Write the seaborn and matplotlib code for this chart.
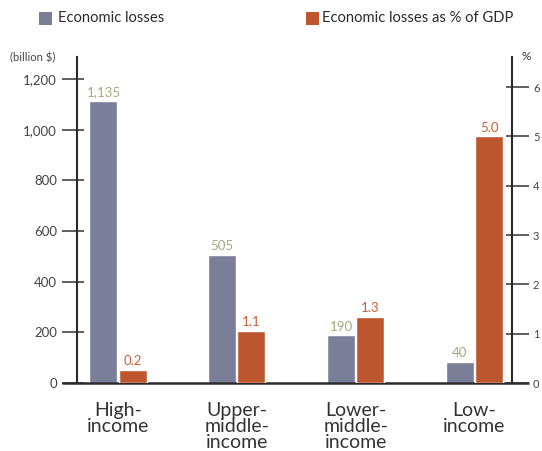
import matplotlib
matplotlib.use("Agg")
import matplotlib.pyplot as plt
import seaborn as sns
import pandas as pd
from matplotlib.ticker import FuncFormatter, FixedLocator, NullFormatter
from matplotlib.patches import Rectangle

# ---- data ----
categories = ["High-\nincome", "Upper-\nmiddle-\nincome", "Lower-\nmiddle-\nincome", "Low-\nincome"]
losses = [1115, 505, 188, 83]              # bar heights as drawn (billion $)
loss_labels = ["1,135", "505", "190", "40"]
pct_gdp = [0.26, 1.05, 1.34, 5.0]          # bar heights as drawn (%)
pct_labels = ["0.2", "1.1", "1.3", "5.0"]
series = ["Economic losses", "Economic losses as % of GDP"]
left_ticks = [0, 200, 400, 600, 800, 1000, 1200]
right_ticks = [0, 1, 2, 3, 4, 5, 6]

GRAY = "#7a7e98"
ORANGE = "#bd562e"
GRAY_TXT = "#a8a67c"
ORANGE_TXT = "#c85f36"
DARK = "#2a2a2a"
PX = 0.72  # points per pixel at dpi 100

sns.set_theme(style="white")
plt.rcParams["font.family"] = ["Lato", "DejaVu Sans"]

fig = plt.figure(figsize=(5.42, 4.51), dpi=100)
ax1 = fig.add_axes([77/542, 1-383/451, (512-77)/542, (383-57)/451])
ax2 = ax1.twinx()

df1 = pd.DataFrame({"cat": categories, "val": losses, "series": series[0]})
df2 = pd.DataFrame({"cat": categories, "val": pct_gdp, "series": series[1]})

common = dict(x="cat", y="val", hue="series", hue_order=series, order=categories,
              palette=[GRAY, ORANGE], width=0.49, gap=0.035, saturation=1,
              legend=False, errorbar=None, dodge=True)
sns.barplot(data=df1, ax=ax1, **common)
sns.barplot(data=df2, ax=ax2, **common)

for ax in (ax1, ax2):
    ax.set_xlim(-0.345, 3.316)
    ax.set_xlabel("")
    ax.set_ylabel("")
    for s in ax.spines.values():
        s.set_visible(False)
    ax.grid(False)
ax1.set_ylim(0, 1287)
ax2.set_ylim(0, 6.61)

# spines
ax1.spines["left"].set_visible(True)
ax1.spines["left"].set_color(DARK)
ax1.spines["left"].set_linewidth(1.5)
ax2.spines["right"].set_visible(True)
ax2.spines["right"].set_color(DARK)
ax2.spines["right"].set_linewidth(1.5)
ax1.plot([-0.0345, 1.038], [0, 0], transform=ax1.transAxes, color=DARK,
         lw=1.8, clip_on=False, zorder=5, solid_capstyle="butt")

# y ticks: outward major + inward minor at same positions
ax1.yaxis.remove_overlapping_locs = False
ax1.yaxis.set_major_locator(FixedLocator(left_ticks))
ax1.yaxis.set_minor_locator(FixedLocator(left_ticks))
ax1.yaxis.set_minor_formatter(NullFormatter())
ax1.yaxis.set_major_formatter(FuncFormatter(lambda v, p: f"{int(v):,}"))
ax1.tick_params(axis="y", which="major", left=True, right=False, direction="out", length=15*PX,
                width=1.1, color="#333333", labelsize=9.5, labelcolor="#444444", pad=5*PX)
ax1.tick_params(axis="y", which="minor", left=True, right=False, direction="in", length=7*PX,
                width=1.1, color="#333333")

ax2.yaxis.remove_overlapping_locs = False
ax2.yaxis.set_major_locator(FixedLocator(right_ticks))
ax2.yaxis.set_minor_locator(FixedLocator(right_ticks))
ax2.yaxis.set_minor_formatter(NullFormatter())
ax2.yaxis.set_major_formatter(FuncFormatter(lambda v, p: f"{int(v)}"))
ax2.tick_params(axis="y", which="major", right=True, left=False, direction="out", length=17*PX,
                width=1.1, color="#333333", labelsize=8, labelcolor="#444444", pad=4*PX)
ax2.tick_params(axis="y", which="minor", right=True, left=False, direction="in", length=6*PX,
                width=1.1, color="#333333")

# x tick labels
ax1.tick_params(axis="x", bottom=False, labelsize=14, labelcolor="#333333", pad=7.5)
ax2.tick_params(axis="x", bottom=False, labelbottom=False)
for lab in ax1.get_xticklabels():
    lab.set_linespacing(0.93)
    lab.set_verticalalignment("top")

# value labels
def label_bars(ax, labels, color):
    for cont in ax.containers:
        if len(cont) == 0:
            continue
        labs = []
        for p in cont:
            idx = int(round(p.get_x() + p.get_width() / 2))
            labs.append(labels[idx])
        ax.bar_label(cont, labels=labs, padding=2, color=color, fontsize=9.5)

label_bars(ax1, loss_labels, GRAY_TXT)
label_bars(ax2, pct_labels, ORANGE_TXT)

# axis unit labels
fig.text(10/542, 1-58/451, "(billion $)", fontsize=8, color="#444444", va="center", ha="left")
fig.text(521/542, 1-56/451, "%", fontsize=8.5, color="#333333", va="center", ha="left")

# legend
fig.patches.append(Rectangle((39/542, 1-25/451), 13/542, 13/451, transform=fig.transFigure,
                             facecolor=GRAY, edgecolor="none"))
fig.text(58/542, 1-18.5/451, series[0], fontsize=10.6, color="#2a2a2a", va="center", ha="left")
fig.patches.append(Rectangle((306/542, 1-25/451), 13/542, 13/451, transform=fig.transFigure,
                             facecolor=ORANGE, edgecolor="none"))
fig.text(322/542, 1-18.5/451, series[1], fontsize=10.6, color="#2a2a2a", va="center", ha="left")

fig.savefig("out.png", dpi=100)
